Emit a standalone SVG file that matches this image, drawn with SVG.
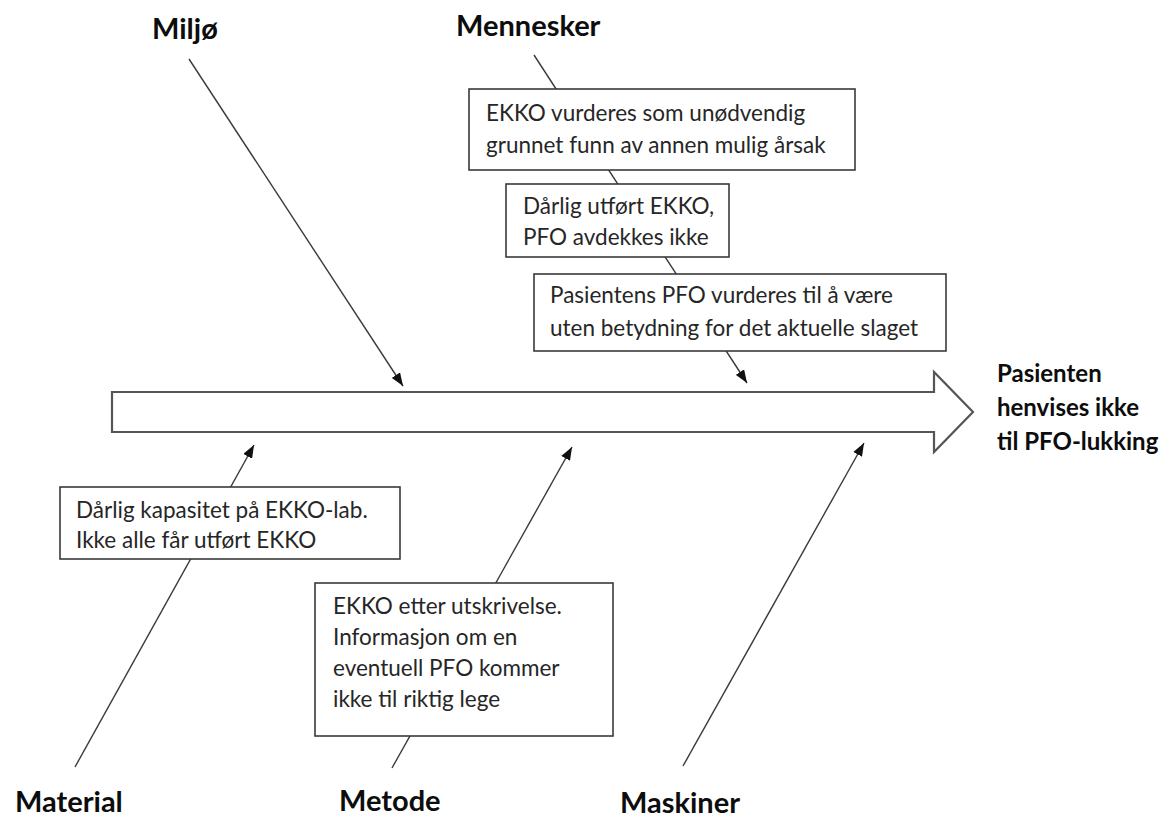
<svg xmlns="http://www.w3.org/2000/svg" width="1164" height="817" viewBox="0 0 1164 817">
<defs>
<marker id="ah" viewBox="0 0 13 10" refX="13" refY="5" markerUnits="userSpaceOnUse" markerWidth="13" markerHeight="10" orient="auto">
<path d="M0,0 L13,5 L0,10 z" fill="#111"/>
</marker>
<style>
.hd{font-family:Lato,"Liberation Sans",sans-serif;font-weight:700;font-size:29px;fill:#0d0d0d}
.eff{font-family:Lato,"Liberation Sans",sans-serif;font-weight:700;font-size:24px;fill:#0d0d0d}
.tx{font-family:Lato,"Liberation Sans",sans-serif;font-size:22.5px;fill:#262626}
.box{fill:#fff;stroke:#3a3a3a;stroke-width:1.6}
.bone{fill:none;stroke:#3a3a3a;stroke-width:1.4}
.spine{fill:#fff;stroke:#555;stroke-width:2.2;stroke-linejoin:miter}
</style>
</defs>
<rect width="1164" height="817" fill="#fff"/>
<g id="connectors">
<line class="bone" x1="189" y1="59" x2="403" y2="386" marker-end="url(#ah)"/>
<line class="bone" x1="534" y1="55" x2="747" y2="383" marker-end="url(#ah)"/>
<line class="bone" x1="75" y1="767" x2="254" y2="445" marker-end="url(#ah)"/>
<line class="bone" x1="392" y1="768" x2="572" y2="447" marker-end="url(#ah)"/>
<line class="bone" x1="683" y1="766" x2="864" y2="443" marker-end="url(#ah)"/>
</g>
<g id="spine">
<polygon class="spine" points="112,392 934,392 934,372 973,412 934,452 934,432 112,432"/>
</g>
<g id="effect">
<text class="eff" x="997" y="382">Pasienten</text>
<text class="eff" x="997" y="416">henvises ikke</text>
<text class="eff" x="997" y="450">til PFO-lukking</text>
</g>
<g id="cat-miljo"><text class="hd" x="152" y="39">Miljø</text></g>
<g id="cat-mennesker"><text class="hd" x="456" y="36">Mennesker</text></g>
<g id="cat-material"><text class="hd" x="15" y="812">Material</text></g>
<g id="cat-metode"><text class="hd" x="339" y="811">Metode</text></g>
<g id="cat-maskiner"><text class="hd" x="620" y="813">Maskiner</text></g>
<g id="cause-ekko-unodvendig">
<rect class="box" x="469" y="89" width="386" height="81"/>
<text class="tx" x="486" y="121">EKKO vurderes som unødvendig</text>
<text class="tx" x="486" y="153">grunnet funn av annen mulig årsak</text>
</g>
<g id="cause-darlig-utfort">
<rect class="box" x="506" y="184" width="223" height="73"/>
<text class="tx" x="523" y="214">Dårlig utført EKKO,</text>
<text class="tx" x="523" y="245">PFO avdekkes ikke</text>
</g>
<g id="cause-pfo-vurderes">
<rect class="box" x="534" y="274" width="412" height="77"/>
<text class="tx" x="550" y="303">Pasientens PFO vurderes til å være</text>
<text class="tx" x="550" y="336">uten betydning for det aktuelle slaget</text>
</g>
<g id="cause-kapasitet">
<rect class="box" x="60" y="487" width="340" height="72"/>
<text class="tx" x="76" y="518">Dårlig kapasitet på EKKO-lab.</text>
<text class="tx" x="76" y="548">Ikke alle får utført EKKO</text>
</g>
<g id="cause-utskrivelse">
<rect class="box" x="315" y="583" width="298" height="153"/>
<text class="tx" x="333" y="614">EKKO etter utskrivelse.</text>
<text class="tx" x="333" y="645">Informasjon om en</text>
<text class="tx" x="333" y="676">eventuell PFO kommer</text>
<text class="tx" x="333" y="707">ikke til riktig lege</text>
</g>
</svg>
